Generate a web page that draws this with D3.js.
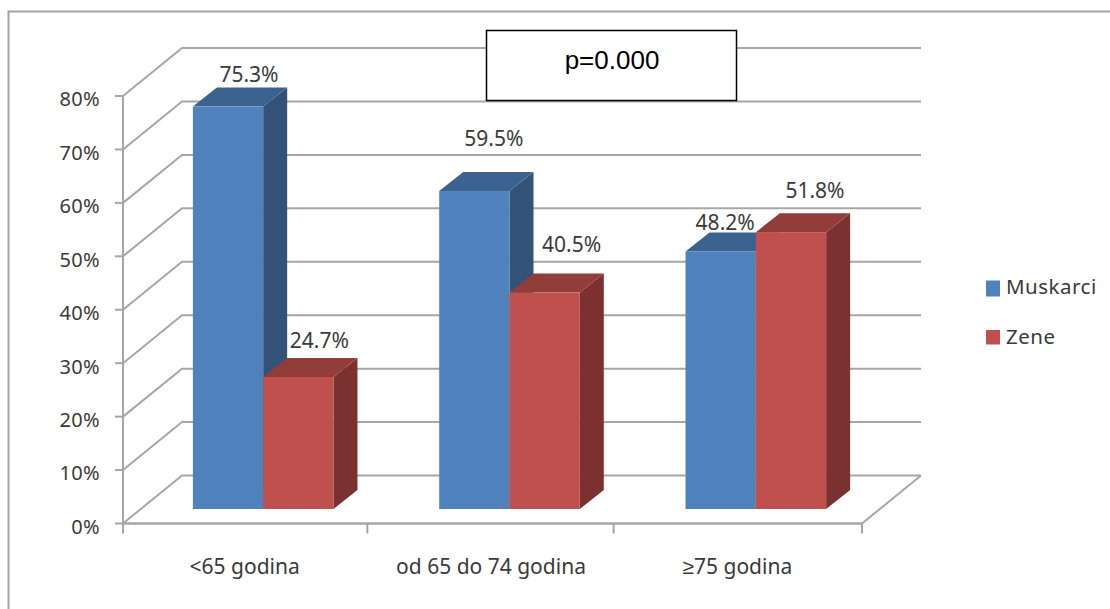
<!DOCTYPE html>
<html>
<head>
<meta charset="utf-8">
<script src="https://cdn.jsdelivr.net/npm/d3@7/dist/d3.min.js"></script>
<style>
html,body{margin:0;padding:0;background:#fff;overflow:hidden}
text{font-family:"Noto Sans",sans-serif;fill:#3a3a3a}
</style>
</head>
<body>
<svg id="chart" width="1110" height="609"></svg>
<script>
// Age groups and the share of each sex within them (percent)
const categories = ["<65 godina", "od 65 do 74 godina", "≥75 godina"];
const seriesNames = ["Muskarci", "Zene"];
const muskarci = [75.3, 59.5, 48.2];
const zene = [24.7, 40.5, 51.8];
const yTicks = [0, 10, 20, 30, 40, 50, 60, 70, 80];
const annotation = "p=0.000";

const svg = d3.select("#chart");
const GRID = "#a6a6a6";

// Front plane of the 3D plot box
const x0 = 123, x1 = 862, yBase = 523.5, yTop = 96;
// Depth vectors: wall behind the plot, and the thickness of a column
const wall = {dx: 59, dy: -48};
const depth = {dx: 24, dy: -19};
// Columns stand inside the floor, pushed back and to the right of the front edge
const barLift = 14.5, barShift = 17;

const x = d3.scaleBand().domain(categories).range([x0, x1]).paddingInner(0).paddingOuter(0);
const y = d3.scaleLinear().domain([0, 80]).range([yBase, yTop]);
const barW = 70.3;

const palette = {
  Muskarci: {front: "#4f81bd", top: "#3c6290", side: "#335277"},
  Zene: {front: "#c0504d", top: "#933d3a", side: "#7b312f"}
};

// Outer chart frame
svg.append("path")
  .attr("d", "M8.5,609V11.5H1110")
  .attr("fill", "none").attr("stroke", "#a3a3a3").attr("stroke-width", 2);

// Gridlines: slanted on the side wall, horizontal on the back wall
const grid = svg.append("g").attr("fill", "none").attr("stroke", GRID).attr("stroke-width", 2);
yTicks.forEach(t => {
  grid.append("path").attr("d", d3.line()([
    [x0, y(t)], [x0 + wall.dx, y(t) + wall.dy], [x1 + wall.dx, y(t) + wall.dy]
  ]));
});
// Floor edge on the right
grid.append("path").attr("d", d3.line()([
  [x1, yBase], [x1 + wall.dx, yBase + wall.dy]
]));

// Value axis line, ticks and labels
const axisG = svg.append("g");
axisG.append("line").attr("x1", x0).attr("x2", x0).attr("y1", yTop).attr("y2", yBase + 8)
  .attr("stroke", GRID).attr("stroke-width", 2);
axisG.selectAll("line.tick").data(yTicks).join("line").attr("class", "tick")
  .attr("x1", x0 - 8).attr("x2", x0)
  .attr("y1", d => y(d)).attr("y2", d => y(d))
  .attr("stroke", GRID).attr("stroke-width", 2);
axisG.selectAll("text").data(yTicks).join("text")
  .attr("x", 100).attr("y", d => y(d) + 5)
  .attr("text-anchor", "end").attr("dominant-baseline", "middle")
  .attr("font-size", 20).attr("letter-spacing", 0.3)
  .text(d => d + "%");

// Category axis line, ticks and labels
const catG = svg.append("g");
catG.append("line").attr("x1", x0).attr("x2", x1).attr("y1", yBase).attr("y2", yBase)
  .attr("stroke", GRID).attr("stroke-width", 2.5);
[0, 1, 2, 3].forEach(i => {
  const px = x0 + i * x.step() - (i === 1 || i === 2 ? 2 : 0);
  catG.append("line").attr("x1", px).attr("x2", px).attr("y1", yBase).attr("y2", yBase + 10)
    .attr("stroke", GRID).attr("stroke-width", 2);
});
catG.selectAll("text").data(categories).join("text")
  .attr("x", d => x(d) + x.step() / 2 - 1.5)
  .attr("y", 574)
  .attr("text-anchor", "middle")
  .attr("font-size", 21)
  .text(d => d);

// Columns, back to front, left to right so neighbours overlap correctly
const rows = [];
categories.forEach((c, i) => {
  const mid = x(c) + x.step() / 2 + barShift;
  rows.push({cat: c, name: "Muskarci", v: muskarci[i], left: mid - barW});
  rows.push({cat: c, name: "Zene", v: zene[i], left: mid});
});
const bars = svg.append("g");
rows.forEach(r => {
  const pal = palette[r.name];
  const l = r.left, rr = l + barW, t = y(r.v) - barLift, b = yBase - barLift;
  const d = depth;
  bars.append("path").attr("fill", pal.side)
    .attr("d", d3.line()([[rr, t], [rr + d.dx, t + d.dy], [rr + d.dx, b + d.dy], [rr, b]]) + "Z");
  bars.append("path").attr("fill", pal.top)
    .attr("d", d3.line()([[l, t], [l + d.dx, t + d.dy], [rr + d.dx, t + d.dy], [rr, t]]) + "Z");
  bars.append("rect").attr("fill", pal.front)
    .attr("x", l).attr("y", t).attr("width", barW).attr("height", b - t);
});

// Value labels, each shifted off its column the way the labels were hand-placed
const labelShift = [[21, -30], [21, -35], [19.5, -51], [27, -46], [4.5, -27], [24, -40]];
svg.append("g").selectAll("text").data(rows).join("text")
  .attr("x", (r, i) => r.left + barW / 2 + labelShift[i][0])
  .attr("y", (r, i) => y(r.v) - barLift + labelShift[i][1])
  .attr("text-anchor", "middle").attr("dominant-baseline", "middle")
  .attr("font-size", 21)
  .text(r => r.v.toFixed(1) + "%");

// Legend
const legend = svg.append("g");
seriesNames.forEach((n, i) => {
  const ly = 288.5 + i * 49.5;
  legend.append("rect").attr("x", 986).attr("y", ly - 8).attr("width", 14).attr("height", i ? 14.5 : 16)
    .attr("fill", palette[n].front);
  legend.append("text").attr("x", 1006).attr("y", ly).attr("dominant-baseline", "middle")
    .attr("font-size", 20.5).attr("letter-spacing", 0.5).text(n);
});

// Significance box
const box = svg.append("g");
box.append("rect").attr("x", 486.5).attr("y", 30.5).attr("width", 250).attr("height", 70)
  .attr("fill", "#fff").attr("stroke", "#000").attr("stroke-width", 1.5);
box.append("text").attr("x", 612).attr("y", 62).attr("text-anchor", "middle")
  .attr("dominant-baseline", "middle").style("font-family", "'Liberation Sans',Arial,sans-serif")
  .style("fill", "#000").attr("font-size", 26).text(annotation);
</script>
</body>
</html>
